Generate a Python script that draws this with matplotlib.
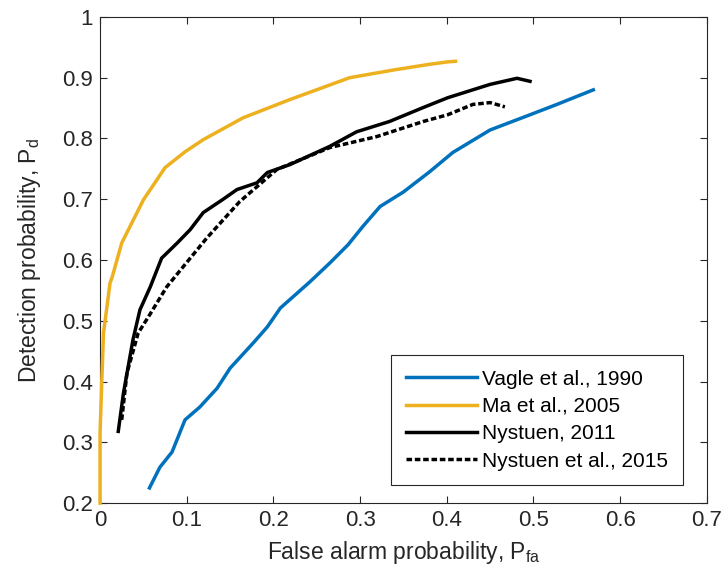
import matplotlib
matplotlib.use("Agg")
import matplotlib.pyplot as plt

plt.rcParams['font.family'] = ['Liberation Sans', 'DejaVu Sans']
plt.rcParams['mathtext.fontset'] = 'custom'
plt.rcParams['mathtext.rm'] = 'Liberation Sans'
plt.rcParams['mathtext.it'] = 'Liberation Sans'

# Curvas ROC
vagle_pfa = [0.057, 0.069, 0.083, 0.098, 0.115, 0.135, 0.150, 0.177, 0.193, 0.208,
             0.242, 0.265, 0.286, 0.303, 0.323, 0.350, 0.380, 0.407, 0.450, 0.496,
             0.527, 0.569]
vagle_pd = [0.225, 0.259, 0.284, 0.337, 0.358, 0.389, 0.422, 0.464, 0.490, 0.521,
            0.564, 0.595, 0.625, 0.655, 0.688, 0.712, 0.745, 0.777, 0.814, 0.839,
            0.856, 0.880]

ma_pfa = [0.0, 0.0, 0.002, 0.004, 0.0115, 0.014, 0.025, 0.050, 0.075, 0.098,
          0.119, 0.165, 0.219, 0.288, 0.340, 0.380, 0.401, 0.410]
ma_pd = [0.2, 0.315, 0.40, 0.48, 0.562, 0.572, 0.628, 0.699, 0.752, 0.778,
         0.798, 0.834, 0.864, 0.900, 0.913, 0.922, 0.926, 0.927]

ny11_pfa = [0.021, 0.027, 0.038, 0.046, 0.058, 0.071, 0.089, 0.104, 0.119, 0.142,
            0.158, 0.181, 0.193, 0.219, 0.265, 0.296, 0.334, 0.373, 0.401, 0.450,
            0.481, 0.496]
ny11_pd = [0.318, 0.381, 0.469, 0.518, 0.556, 0.603, 0.628, 0.650, 0.678, 0.700,
           0.716, 0.727, 0.744, 0.757, 0.787, 0.811, 0.828, 0.851, 0.867, 0.889,
           0.899, 0.894]

ny15_pfa = [0.025, 0.031, 0.044, 0.056, 0.077, 0.104, 0.123, 0.142, 0.161, 0.204,
            0.265, 0.319, 0.373, 0.401, 0.430, 0.450, 0.467]
ny15_pd = [0.337, 0.414, 0.480, 0.507, 0.556, 0.603, 0.636, 0.666, 0.696, 0.749,
           0.785, 0.803, 0.828, 0.839, 0.856, 0.859, 0.852]

fig = plt.figure(figsize=(7.25, 5.83), dpi=100)
ax = fig.add_axes([0.138, 0.137, 0.837, 0.834])

ax.plot(vagle_pfa, vagle_pd, color='#0072BD', lw=2.5, label='Vagle et al., 1990')
ax.plot(ma_pfa, ma_pd, color='#EDB120', lw=2.5, label='Ma et al., 2005', clip_on=False,
        zorder=3)
ax.plot(ny11_pfa, ny11_pd, color='black', lw=2.5, label='Nystuen, 2011')
ax.plot(ny15_pfa, ny15_pd, color='black', lw=2.5, linestyle=(0, (1.6, 0.8)),
        label='Nystuen et al., 2015')

ax.set_xlim(0, 0.7)
ax.set_ylim(0.2, 1)
ax.set_xticks([0, 0.1, 0.2, 0.3, 0.4, 0.5, 0.6, 0.7])
ax.set_xticklabels(['0', '0.1', '0.2', '0.3', '0.4', '0.5', '0.6', '0.7'])
ax.set_yticks([0.2, 0.3, 0.4, 0.5, 0.6, 0.7, 0.8, 0.9, 1])
ax.set_yticklabels(['0.2', '0.3', '0.4', '0.5', '0.6', '0.7', '0.8', '0.9', '1'])
ax.tick_params(direction='in', top=True, right=True, labelsize=16,
               colors='#262626', length=5, width=0.8, pad=5)
for s in ax.spines.values():
    s.set_color('#262626')
    s.set_linewidth(0.8)

ax.set_xlabel('False alarm probability, P$_{\\mathrm{fa}}$', fontsize=16.5,
              color='#262626', labelpad=6)
ax.set_ylabel('Detection probability, P$_{\\mathrm{d}}$', fontsize=16.5,
              color='#262626', labelpad=14)

leg = ax.legend(loc='lower right', fontsize=15, fancybox=False, framealpha=1,
                edgecolor='#262626', handlelength=3.4, handletextpad=0.25,
                borderpad=0.7, labelspacing=0.4, borderaxespad=0,
                bbox_to_anchor=(0.960, 0.037))
leg.get_frame().set_linewidth(0.8)

fig.savefig('out.png', dpi=100)
